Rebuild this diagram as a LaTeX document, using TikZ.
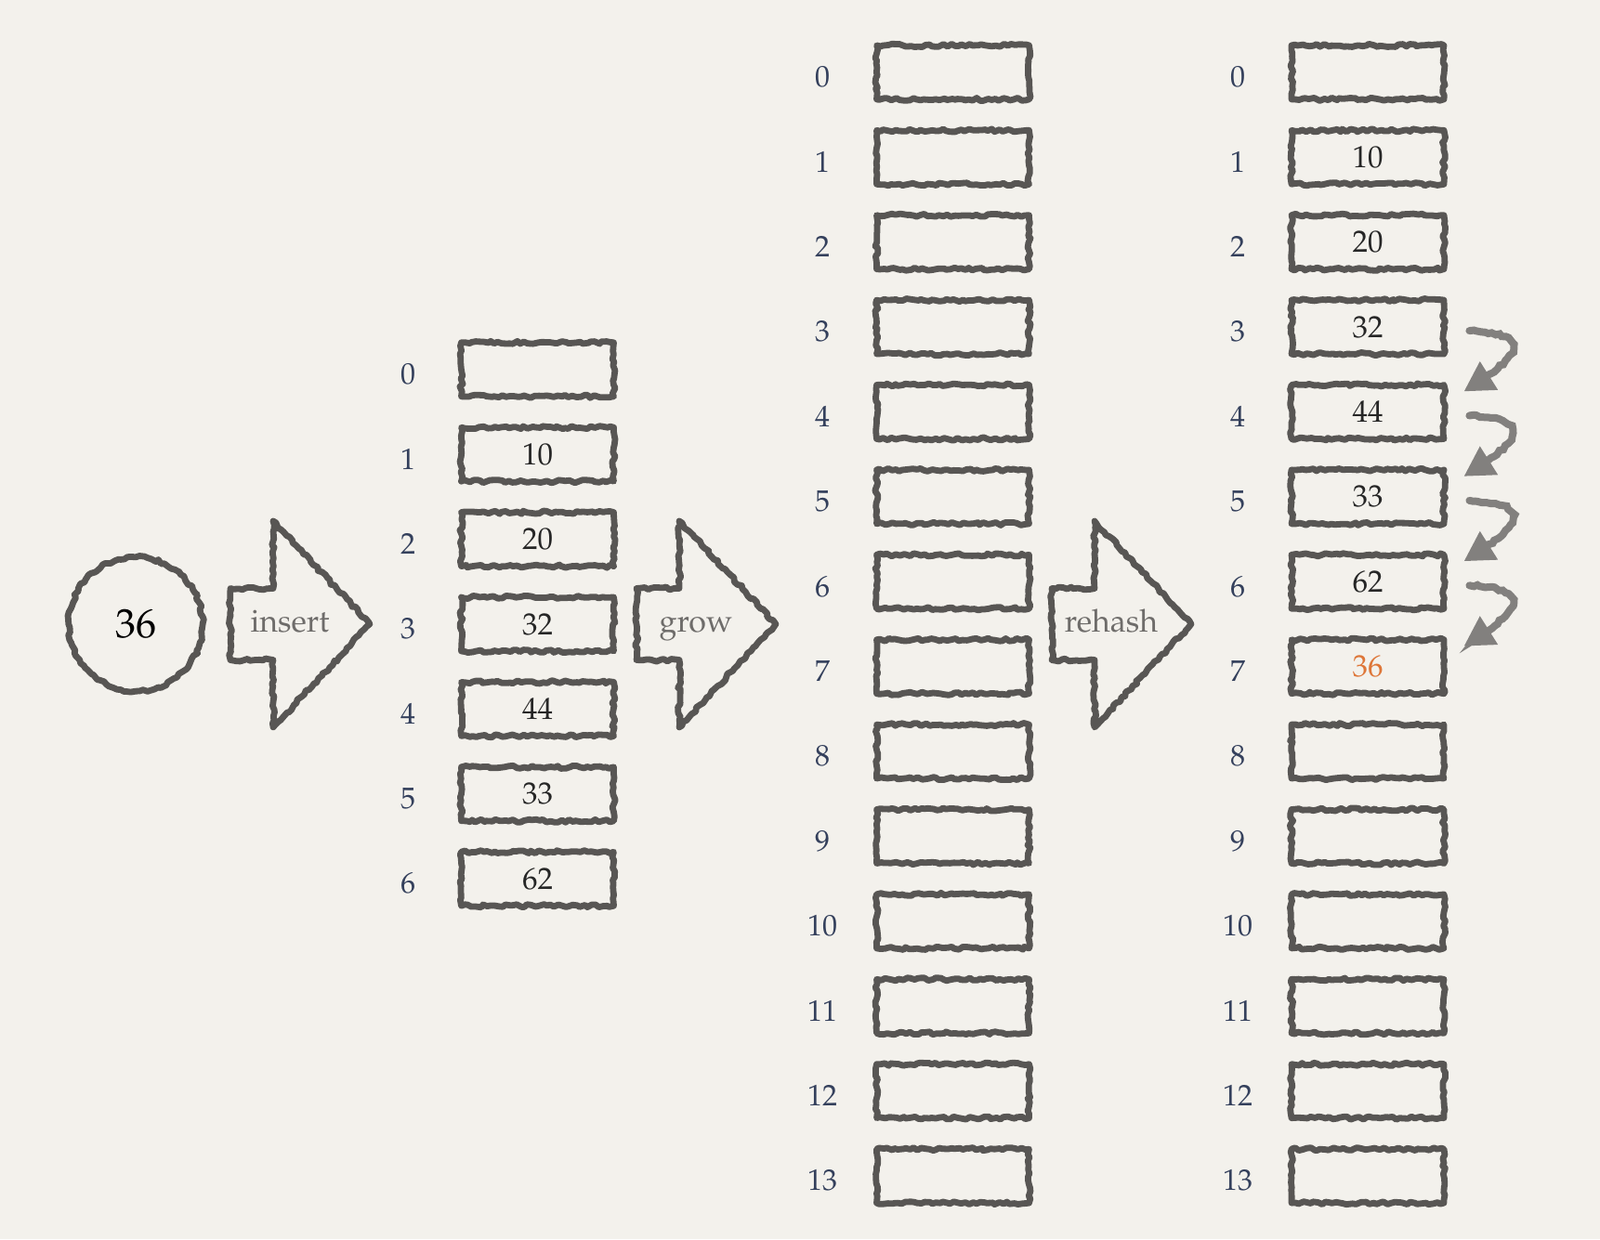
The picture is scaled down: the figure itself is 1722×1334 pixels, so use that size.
\documentclass[tikz,border=0pt]{standalone}
\usepackage[T1]{fontenc}
\usepackage{mathpazo}
\usetikzlibrary{shapes,arrows.meta,positioning,decorations.pathmorphing}
\definecolor{paper}{RGB}{243,241,236}
\definecolor{chalk}{RGB}{88,86,84}
\definecolor{softchalk}{RGB}{130,128,126}
\definecolor{slate}{RGB}{52,64,92}
\definecolor{hot}{RGB}{222,118,56}
\definecolor{mute}{RGB}{110,108,106}

\tikzset{
  sketch/.style={draw=chalk, line width=3.4pt, line join=round,
    decorate, decoration={random steps, segment length=2pt, amplitude=0.8pt}},
  slot/.style={sketch, rectangle, minimum width=82pt, minimum height=29pt,
    inner sep=0pt, font=\fontsize{16.5}{18}\selectfont, text=black!85},
  idx/.style={font=\fontsize{16}{18}\selectfont, text=slate, yshift=-2.5pt},
  curl/.style={draw=softchalk, line width=4pt, line cap=round,
    -{Triangle[length=16pt,width=17pt]},
    decorate, decoration={random steps, segment length=2pt, amplitude=0.6pt, post length=8pt}}
}

\begin{document}
\begin{tikzpicture}[x=0.5pt, y=0.5pt]
  \fill[paper] (0,0) rectangle (1722,1334);
  \useasboundingbox (0,0) rectangle (1722,1334);

  % key to insert
  \node[sketch, circle, minimum size=72pt, inner sep=0pt,
        font=\fontsize{22}{24}\selectfont] (key) at (146,662) {36};

  % the three big arrows
  \foreach \x/\t/\n in {248/insert/ins, 685/grow/grw, 1132/rehash/reh} {
    \draw[sketch] (\x,700.5) -- (\x+46,700.5) -- (\x+46,773) -- (\x+150,662)
      -- (\x+46,551) -- (\x+46,623.5) -- (\x,623.5) -- cycle;
    \node[font=\fontsize{17}{18}\selectfont, text=mute, anchor=base] (\n) at (\x+64,653) {\t};
  }

  % table of size 7
  \foreach \i/\v in {0/,1/10,2/20,3/32,4/44,5/33,6/62} {
    \node[slot] (s\i) at (578.5,{662-(\i-3)*91.4}) {\v};
    \node[idx] (si\i) at (439,{662-(\i-3)*91.4}) {\i};
  }

  % grown table of size 14
  \foreach \i in {0,...,13} {
    \node[slot] (g\i) at (1025.5,{662-(\i-6.5)*91.4}) {};
    \node[idx] (gi\i) at (885,{662-(\i-6.5)*91.4}) {\i};
  }

  % rehashed table
  \foreach \i/\v in {0/,1/10,2/20,3/32,4/44,5/33,6/62,7/\textcolor{hot}{36},
                     8/,9/,10/,11/,12/,13/} {
    \node[slot] (r\i) at (1472,{662-(\i-6.5)*91.4}) {\v};
    \node[idx] (ri\i) at (1332,{662-(\i-6.5)*91.4}) {\i};
  }

  % probing steps
  \foreach \k/\m in {3/4,4/5,5/6,6/7}
    \draw[curl] ([xshift=12pt,yshift=-2pt]r\k.east) .. controls +(72,-4) and +(62,38) ..
      ([xshift=9pt,yshift=11pt]r\m.east);
\end{tikzpicture}
\end{document}
